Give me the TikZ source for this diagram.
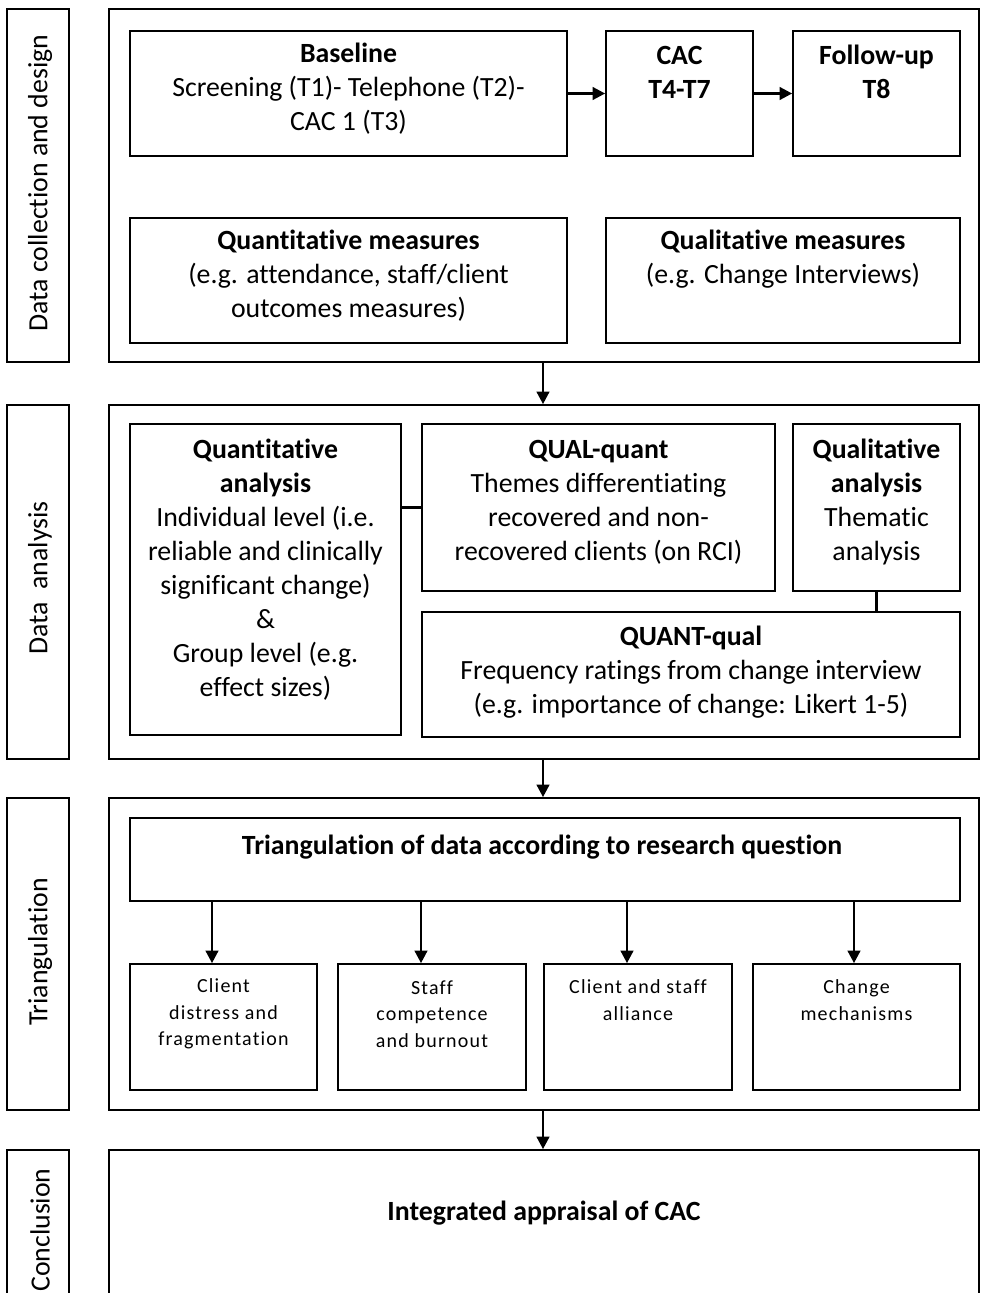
\documentclass[tikz,border=0pt]{standalone}
\usepackage{fontspec}
\setmainfont{Carlito}[Ligatures=NoCommon]
\newfontfamily\spaced{Carlito}[LetterSpace=6,Ligatures=NoCommon]
\usetikzlibrary{arrows.meta,calc}
\tikzset{
  box/.style={draw=black, line width=1.7pt, inner sep=0pt},
  txt/.style={align=center, inner sep=0pt, font=\fontsize{27.8}{34}\selectfont},
  smalltxt/.style={align=center, inner sep=0pt, font=\spaced\fontsize{20}{26.5}\selectfont},
  side/.style={rotate=90, inner sep=0pt, font=\fontsize{27.8}{30}\selectfont},
  arr/.style={line width=2.6pt, -{Triangle[length=12.5pt,width=12.5pt]}},
  conn/.style={line width=2.6pt},
}
\begin{document}
\begin{tikzpicture}[x=1pt,y=-1pt]
\useasboundingbox (0,0) rectangle (980,1293);
\fill[white] (0,0) rectangle (980,1293);
\clip (0,0) rectangle (980,1293);
% ---------- Section 1
\node[box, minimum width=62, minimum height=353] (lab1) at (38,185.5) {};
\node[side] (lab1t) at (40,183) {Data collection and design};
\node[box, minimum width=870, minimum height=353] (out1) at (544,185.5) {};
\node[box, minimum width=437, minimum height=125] (base) at (348.5,93.5) {};
\node[box, minimum width=147, minimum height=125] (cac) at (679.5,93.5) {};
\node[box, minimum width=167, minimum height=125] (fu) at (876.5,93.5) {};
\node[box, minimum width=437, minimum height=125] (qm) at (348.5,280.5) {};
\node[box, minimum width=354, minimum height=125] (qlm) at (783,280.5) {};
\node[txt] (baset) at (348.5,89) {\textbf{Baseline}\\Screening (T1)- Telephone (T2)-\\CAC 1 (T3)};
\node[txt] (cact) at (679.5,72) {\textbf{CAC}\\\textbf{T4-T7}};
\node[txt] (fut) at (876.5,72) {\textbf{Follow-up}\\\textbf{T8}};
\node[txt] (qmt) at (348.5,276) {\textbf{Quantitative measures}\\(e.g. attendance, staff/client\\outcomes measures)};
\node[txt] (qlmt) at (783,259) {\textbf{Qualitative measures}\\(e.g. Change Interviews)};
\draw[arr] (base) -- (cac);
\draw[arr] (cac) -- (fu);
% ---------- Section 2
\node[box, minimum width=62, minimum height=354] (lab2) at (38,582) {};
\node[side] (lab2t) at (40,578) {Data\ \ analysis};
\node[box, minimum width=870, minimum height=354] (out2) at (544,582) {};
\node[box, minimum width=271, minimum height=311] (qa) at (265.5,579.5) {};
\node[box, minimum width=353, minimum height=167] (qq) at (598.5,507.5) {};
\node[box, minimum width=167, minimum height=167] (ql) at (876.5,507.5) {};
\node[box, minimum width=538, minimum height=125] (qn) at (691,674.5) {};
\node[txt] (qat) at (265.5,570) {\textbf{Quantitative}\\\textbf{analysis}\\Individual level (i.e.\\reliable and clinically\\significant change)\\\&\\Group level (e.g.\\effect sizes)};
\node[txt] (qqt) at (598.5,502) {\textbf{QUAL-quant}\\Themes differentiating\\recovered and non-\\recovered clients (on RCI)};
\node[txt] (qlt) at (876.5,502) {\textbf{Qualitative}\\\textbf{analysis}\\Thematic\\analysis};
\node[txt] (qnt) at (691,672) {\textbf{QUANT-qual}\\Frequency ratings from change interview\\(e.g. importance of change: Likert 1-5)};
\draw[conn] (qa.east |- qq.center) -- (qq.west);
\draw[conn] (ql.south) -- (ql.south |- qn.north);
% ---------- Section 3
\node[box, minimum width=62, minimum height=312] (lab3) at (38,954) {};
\node[side] (lab3t) at (40,952) {Triangulation};
\node[box, minimum width=870, minimum height=312] (out3) at (544,954) {};
\node[box, minimum width=830, minimum height=83] (tri) at (545,859.5) {};
\node[txt] (trit) at (542,847) {\textbf{Triangulation of data according to research question}};
\node[box, minimum width=187, minimum height=126] (c1) at (223.5,1027) {};
\node[box, minimum width=188, minimum height=126] (c2) at (432,1027) {};
\node[box, minimum width=188, minimum height=126] (c3) at (638,1027) {};
\node[box, minimum width=207, minimum height=126] (c4) at (856.5,1027) {};
\node[smalltxt] (c1t) at (223.5,1014) {Client\\distress and\\fragmentation};
\node[smalltxt] (c2t) at (432,1014) {Staff\\competence\\and burnout};
\node[smalltxt] (c3t) at (638,1000) {Client and staff\\alliance};
\node[smalltxt] (c4t) at (856.5,1000) {Change\\mechanisms};
\draw[arr] ([xshift=-11.5pt]c1.north |- tri.south) -- ([xshift=-11.5pt]c1.north);
\draw[arr] ([xshift=-11pt]c2.north |- tri.south) -- ([xshift=-11pt]c2.north);
\draw[arr] ([xshift=-11pt]c3.north |- tri.south) -- ([xshift=-11pt]c3.north);
\draw[arr] ([xshift=-2.5pt]c4.north |- tri.south) -- ([xshift=-2.5pt]c4.north);
% ---------- Section 4
\node[box, minimum width=62, minimum height=170] (lab4) at (38,1235) {};
\node[side] (lab4t) at (40,1230) {Conclusion};
\node[box, minimum width=870, minimum height=170] (out4) at (544,1235) {};
\node[txt] (out4t) at (544,1213) {\textbf{Integrated appraisal of CAC}};
% ---------- Section arrows
\coordinate (ax) at (543,0);
\draw[arr] (out1.south -| ax) -- (out2.north -| ax);
\draw[arr] (out2.south -| ax) -- (out3.north -| ax);
\draw[arr] (out3.south -| ax) -- (out4.north -| ax);
\end{tikzpicture}
\end{document}
